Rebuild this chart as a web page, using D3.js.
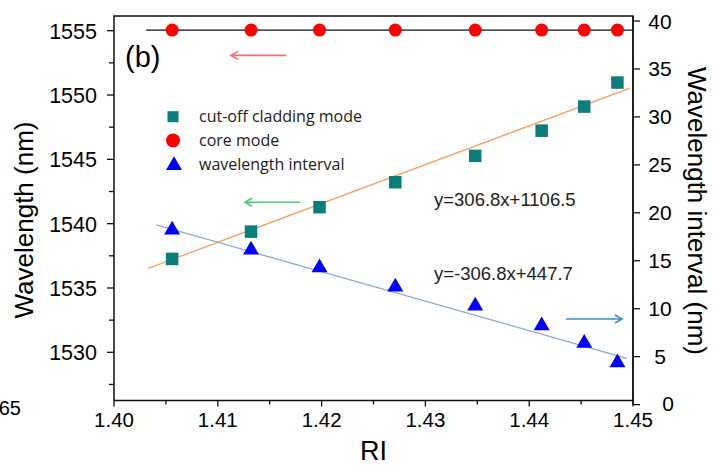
<!DOCTYPE html>
<html>
<head>
<meta charset="utf-8">
<script src="https://cdn.jsdelivr.net/npm/d3@7"></script>
<style>
  body { margin: 0; background: white; }
  svg { display: block; }
</style>
</head>
<body>
<script>
// values
const ri = [1.4056, 1.4132, 1.4198, 1.4271, 1.4348, 1.4412, 1.4453, 1.4485];
const coreMode = [1555.05, 1555.05, 1555.05, 1555.05, 1555.05, 1555.05, 1555.05, 1555.05];
const claddingMode = [1537.26, 1539.38, 1541.28, 1543.22, 1545.27, 1547.23, 1549.1, 1550.97];
const interval = [18.32, 16.23, 14.38, 12.37, 10.39, 8.34, 6.5, 4.48];

const coreLineX = [1.4031, 1.4499];
const claddingFitX = [1.4033, 1.4497], claddingFitY = [1536.53, 1550.53];
const intervalFitX = [1.4041, 1.4494], intervalFitY = [18.73, 4.83];

const xTicks = [1.40, 1.41, 1.42, 1.43, 1.44, 1.45];
const leftTicks = [1530, 1535, 1540, 1545, 1550, 1555];
const rightTicks = [0, 5, 10, 15, 20, 25, 30, 35, 40];

const legendLabels = ["cut-off cladding mode", "core mode", "wavelength interval"];
const equations = ["y=306.8x+1106.5", "y=-306.8x+447.7"];

const width = 718, height = 471;
const m = {left: 114, right: 633, top: 16, bottom: 400.5};

const x = d3.scaleLinear().domain([1.40, 1.45]).range([m.left, m.right]);
const yL = d3.scaleLinear().domain([1530, 1555]).range([352.3, 30.7]);
const yR = d3.scaleLinear().domain([0, 40]).range([404.6, 21]);

const svg = d3.select("body").append("svg")
    .attr("width", width)
    .attr("height", height)
    .style("font-family", "Arial, 'Liberation Sans', sans-serif");

// frame
svg.append("rect")
    .attr("x", m.left).attr("y", m.top)
    .attr("width", m.right - m.left).attr("height", m.bottom - m.top)
    .attr("fill", "none").attr("stroke", "#111").attr("stroke-width", 1.5);

// bottom axis
const gx = svg.append("g").attr("transform", `translate(0,${m.bottom})`);
gx.selectAll("line.minor").data(d3.range(1.405, 1.45, 0.01)).join("line")
    .attr("x1", d => x(d)).attr("x2", d => x(d)).attr("y1", 0).attr("y2", 4)
    .attr("stroke", "#111").attr("stroke-width", 1.3);
gx.selectAll("line.major").data(xTicks).join("line")
    .attr("x1", d => x(d)).attr("x2", d => x(d)).attr("y1", 0).attr("y2", 6)
    .attr("stroke", "#111").attr("stroke-width", 1.3);
gx.selectAll("text").data(xTicks).join("text")
    .attr("x", d => x(d)).attr("y", 26.5)
    .attr("text-anchor", "middle").attr("font-size", 20.5)
    .text(d => d.toFixed(2));

// left axis
const gl = svg.append("g").attr("transform", `translate(${m.left},0)`);
gl.selectAll("line.minor").data(d3.range(1527.5, 1556, 5)).join("line")
    .attr("y1", d => yL(d)).attr("y2", d => yL(d)).attr("x1", 0).attr("x2", -5)
    .attr("stroke", "#111").attr("stroke-width", 1.3);
gl.selectAll("line.major").data(leftTicks).join("line")
    .attr("y1", d => yL(d)).attr("y2", d => yL(d)).attr("x1", 0).attr("x2", -7)
    .attr("stroke", "#111").attr("stroke-width", 1.3);
gl.selectAll("text").data(leftTicks).join("text")
    .attr("x", -17).attr("y", d => yL(d) + 8)
    .attr("text-anchor", "end").attr("font-size", 21.5)
    .text(d => d);

// right axis
const gr = svg.append("g").attr("transform", `translate(${m.right},0)`);
gr.append("line").attr("y1", m.top).attr("y2", yR(0))
    .attr("stroke", "#111").attr("stroke-width", 1.5);
gr.selectAll("line.major").data(rightTicks).join("line")
    .attr("y1", d => yR(d)).attr("y2", d => yR(d)).attr("x1", 0).attr("x2", 7)
    .attr("stroke", "#111").attr("stroke-width", 1.3);
gr.selectAll("text").data(rightTicks).join("text")
    .attr("x", d => d === 0 ? 35 : 27).attr("y", d => d === 0 ? yR(d) + 6.5 : yR(d) + 7.5)
    .attr("text-anchor", "middle").attr("font-size", 21)
    .text(d => d);

// axis titles
svg.append("text")
    .attr("transform", "translate(33,220) rotate(-90)")
    .attr("text-anchor", "middle").attr("font-size", 26)
    .text("Wavelength (nm)");
svg.append("text")
    .attr("transform", "translate(688,211) rotate(90)")
    .attr("text-anchor", "middle").attr("font-size", 26)
    .text("Wavelength interval (nm)");
svg.append("text")
    .attr("x", (m.left + m.right) / 2).attr("y", 460)
    .attr("text-anchor", "middle").attr("font-size", 27)
    .text("RI");
svg.append("text")
    .attr("x", 21).attr("y", 415)
    .attr("text-anchor", "end").attr("font-size", 20)
    .text("65");

svg.append("text")
    .attr("x", 125).attr("y", 67)
    .attr("font-size", 29)
    .text("(b)");

// fit lines
const line = d3.line();
svg.append("path")
    .attr("d", line(coreLineX.map(d => [x(d), yL(coreMode[0])])))
    .attr("stroke", "#111").attr("stroke-width", 1.3).attr("fill", "none");
svg.append("path")
    .attr("d", line(claddingFitX.map((d, i) => [x(d), yL(claddingFitY[i])])))
    .attr("stroke", "#f7a060").attr("stroke-width", 1.3).attr("fill", "none");
svg.append("path")
    .attr("d", line(intervalFitX.map((d, i) => [x(d), yR(intervalFitY[i])])))
    .attr("stroke", "#8ea8d6").attr("stroke-width", 1.3).attr("fill", "none");

// markers
const sq = 12.5;
svg.append("g").selectAll("rect").data(ri).join("rect")
    .attr("x", d => x(d) - sq / 2).attr("y", (d, i) => yL(claddingMode[i]) - sq / 2)
    .attr("width", sq).attr("height", sq)
    .attr("fill", "#0a7e7a");
svg.append("g").selectAll("circle").data(ri).join("circle")
    .attr("cx", d => x(d)).attr("cy", (d, i) => yL(coreMode[i]))
    .attr("r", 6.5).attr("fill", "#ff0000");
const tri = d3.symbol().type(d3.symbolTriangle).size(110);
svg.append("g").selectAll("path").data(ri).join("path")
    .attr("transform", (d, i) => `translate(${x(d)},${yR(interval[i]) + 1})`)
    .attr("d", tri).attr("fill", "#0000ff");

// arrows (annotation: which axis each series uses)
const arrows = [
  {x0: 1.41657, x1: 1.41127, y: yL(1553.08), color: "#ff6b6b"},
  {x0: 1.41792, x1: 1.41262, y: yL(1541.66), color: "#4ccc7a"},
  {x0: 1.44355, x1: 1.44894, y: yR(8.93), color: "#3d8fd4"}
];
const ga = svg.append("g").attr("fill", "none").attr("stroke-width", 1.6);
arrows.forEach(a => {
  const x0 = x(a.x0), x1 = x(a.x1), dir = x1 > x0 ? -1 : 1;
  ga.append("path")
      .attr("d", `M${x0},${a.y}H${x1}M${x1 + dir * 7},${a.y - 4}L${x1},${a.y}L${x1 + dir * 7},${a.y + 4}`)
      .attr("stroke", a.color);
});

// legend
const lg = svg.append("g").attr("font-family", "'Open Sans', 'Noto Sans', sans-serif").attr("font-size", 16);
const ly = [116.7, 140.5, 164.5];
lg.append("rect").attr("x", 173 - 5.5).attr("y", ly[0] - 5.5).attr("width", 11).attr("height", 11).attr("fill", "#0a7e7a");
lg.append("circle").attr("cx", 173).attr("cy", ly[1]).attr("r", 7).attr("fill", "#ff0000");
lg.append("path").attr("transform", `translate(174,${ly[2] + 1})`).attr("d", tri).attr("fill", "#0000ff");
lg.selectAll("text").data(legendLabels).join("text")
    .attr("x", 199).attr("y", (d, i) => ly[i] + 5.5)
    .attr("fill", "#222")
    .text(d => d);

// equations
svg.append("text").attr("x", 434).attr("y", 205.5).attr("font-size", 18.5).attr("fill", "#222").text(equations[0]);
svg.append("text").attr("x", 434).attr("y", 280).attr("font-size", 18.5).attr("fill", "#222").text(equations[1]);
</script>
</body>
</html>
